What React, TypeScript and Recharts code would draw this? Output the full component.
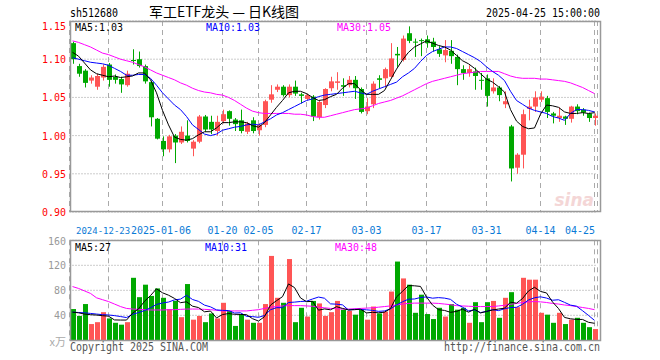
import React from 'react';
import { ComposedChart, Bar, Line, XAxis, YAxis, CartesianGrid } from 'recharts';

const dates = [
  '2024-12-13', '2024-12-16', '2024-12-17', '2024-12-18', '2024-12-19', '2024-12-20',
  '2024-12-23', '2024-12-24', '2024-12-25', '2024-12-26', '2024-12-27', '2024-12-30', '2024-12-31',
  '2025-01-02', '2025-01-03', '2025-01-06', '2025-01-07', '2025-01-08', '2025-01-09', '2025-01-10',
  '2025-01-13', '2025-01-14', '2025-01-15', '2025-01-16', '2025-01-17', '2025-01-20', '2025-01-21',
  '2025-01-22', '2025-01-23', '2025-01-24', '2025-01-27',
  '2025-02-05', '2025-02-06', '2025-02-07', '2025-02-10', '2025-02-11', '2025-02-12', '2025-02-13',
  '2025-02-14', '2025-02-17', '2025-02-18', '2025-02-19', '2025-02-20', '2025-02-21', '2025-02-24',
  '2025-02-25', '2025-02-26', '2025-02-27', '2025-02-28',
  '2025-03-03', '2025-03-04', '2025-03-05', '2025-03-06', '2025-03-07', '2025-03-10', '2025-03-11',
  '2025-03-12', '2025-03-13', '2025-03-14', '2025-03-17', '2025-03-18', '2025-03-19', '2025-03-20',
  '2025-03-21', '2025-03-24', '2025-03-25', '2025-03-26', '2025-03-27', '2025-03-28', '2025-03-31',
  '2025-04-01', '2025-04-02', '2025-04-03', '2025-04-07', '2025-04-08', '2025-04-09', '2025-04-10',
  '2025-04-11', '2025-04-14', '2025-04-15', '2025-04-16', '2025-04-17', '2025-04-18', '2025-04-21',
  '2025-04-22', '2025-04-23', '2025-04-24', '2025-04-25',
];

const opens = [
  1.121, 1.091, 1.085, 1.072, 1.064, 1.076, 1.093, 1.077, 1.074, 1.066,
  1.099, 1.100, 1.091, 1.070, 1.022, 0.993, 0.982, 1.000, 0.991, 1.000,
  0.983, 0.992, 1.025, 1.018, 1.006, 1.019, 1.032, 1.021, 1.020, 1.005,
  1.020, 1.007, 1.014, 1.047, 1.060, 1.064, 1.053, 1.064, 1.054, 1.048,
  1.051, 1.024, 1.040, 1.062, 1.069, 1.066, 1.066, 1.073, 1.061, 1.032,
  1.041, 1.075, 1.075, 1.077, 1.107, 1.099, 1.134, 1.123, 1.125, 1.126,
  1.123, 1.113, 1.105, 1.111, 1.103, 1.087, 1.082, 1.084, 1.073, 1.075,
  1.058, 1.063, 1.041, 1.012, 0.958, 0.975, 1.035, 1.038, 1.047, 1.049,
  1.029, 1.023, 1.025, 1.022, 1.038, 1.034, 1.029, 1.023,
];
const highs = [
  1.123, 1.094, 1.087, 1.079, 1.081, 1.093, 1.095, 1.080, 1.077, 1.085,
  1.113, 1.110, 1.093, 1.072, 1.023, 0.999, 1.001, 1.002, 1.012, 1.020,
  0.994, 1.027, 1.027, 1.026, 1.026, 1.034, 1.033, 1.023, 1.034, 1.018,
  1.024, 1.016, 1.047, 1.066, 1.067, 1.066, 1.067, 1.072, 1.056, 1.055,
  1.053, 1.046, 1.062, 1.077, 1.083, 1.075, 1.078, 1.078, 1.063, 1.049,
  1.071, 1.079, 1.089, 1.121, 1.116, 1.131, 1.143, 1.127, 1.127, 1.131,
  1.128, 1.117, 1.125, 1.125, 1.106, 1.092, 1.092, 1.089, 1.082, 1.080,
  1.075, 1.065, 1.058, 1.014, 0.977, 1.034, 1.047, 1.058, 1.058, 1.052,
  1.031, 1.037, 1.026, 1.039, 1.041, 1.036, 1.030, 1.029,
];
const lows = [
  1.094, 1.077, 1.063, 1.068, 1.060, 1.072, 1.064, 1.068, 1.056, 1.064,
  1.093, 1.089, 1.068, 1.012, 0.995, 0.973, 0.978, 0.964, 0.989, 0.991,
  0.973, 0.990, 1.005, 1.002, 1.000, 1.016, 1.013, 1.006, 1.003, 1.002,
  1.003, 1.000, 1.011, 1.043, 1.057, 1.051, 1.050, 1.052, 1.042, 1.046,
  1.019, 1.021, 1.036, 1.058, 1.060, 1.052, 1.063, 1.048, 1.029, 1.028,
  1.036, 1.062, 1.063, 1.076, 1.090, 1.097, 1.121, 1.103, 1.104, 1.115,
  1.110, 1.103, 1.096, 1.094, 1.066, 1.073, 1.077, 1.060, 1.060, 1.038,
  1.055, 1.045, 1.036, 0.940, 0.950, 0.957, 1.020, 1.031, 1.044, 1.023,
  1.016, 1.018, 1.014, 1.017, 1.028, 1.026, 1.018, 1.013,
];
const closes = [
  1.100, 1.081, 1.069, 1.076, 1.078, 1.090, 1.073, 1.073, 1.067, 1.081,
  1.098, 1.091, 1.071, 1.024, 0.996, 0.982, 0.999, 0.991, 1.005, 0.993,
  0.992, 1.025, 1.008, 1.008, 1.018, 1.028, 1.022, 1.015, 1.006, 1.016,
  1.006, 1.014, 1.045, 1.054, 1.064, 1.053, 1.064, 1.055, 1.052, 1.053,
  1.025, 1.044, 1.061, 1.071, 1.071, 1.064, 1.073, 1.062, 1.031, 1.038,
  1.068, 1.073, 1.087, 1.101, 1.105, 1.127, 1.124, 1.122, 1.124, 1.121,
  1.116, 1.107, 1.112, 1.104, 1.087, 1.082, 1.087, 1.078, 1.072, 1.052,
  1.063, 1.053, 1.045, 0.957, 0.975, 1.028, 1.038, 1.050, 1.051, 1.031,
  1.026, 1.026, 1.022, 1.038, 1.032, 1.030, 1.023, 1.026,
];
const ma5 = [
  1.109, 1.104, 1.095, 1.086, 1.081, 1.079, 1.077, 1.078, 1.076, 1.077,
  1.078, 1.082, 1.082, 1.073, 1.056, 1.033, 1.014, 0.998, 0.995, 0.994,
  0.996, 1.001, 1.005, 1.005, 1.010, 1.017, 1.017, 1.018, 1.018, 1.017,
  1.013, 1.011, 1.017, 1.027, 1.037, 1.046, 1.056, 1.058, 1.058, 1.055,
  1.050, 1.046, 1.047, 1.051, 1.054, 1.062, 1.068, 1.068, 1.060, 1.054,
  1.054, 1.054, 1.059, 1.073, 1.087, 1.099, 1.109, 1.116, 1.120, 1.124,
  1.121, 1.118, 1.116, 1.112, 1.105, 1.098, 1.094, 1.088, 1.081, 1.074,
  1.070, 1.064, 1.057, 1.034, 1.019, 1.012, 1.009, 1.010, 1.028, 1.040,
  1.039, 1.037, 1.031, 1.029, 1.029, 1.030, 1.029, 1.030,
];
const ma10 = [
  1.102, 1.100, 1.098, 1.096, 1.095, 1.094, 1.092, 1.088, 1.084, 1.079,
  1.079, 1.080, 1.080, 1.075, 1.066, 1.056, 1.048, 1.040, 1.034, 1.025,
  1.014, 1.008, 1.002, 1.000, 1.002, 1.007, 1.009, 1.011, 1.012, 1.014,
  1.015, 1.014, 1.018, 1.022, 1.027, 1.030, 1.034, 1.038, 1.042, 1.046,
  1.048, 1.051, 1.053, 1.054, 1.055, 1.056, 1.057, 1.058, 1.056, 1.054,
  1.058, 1.061, 1.064, 1.067, 1.070, 1.077, 1.082, 1.088, 1.097, 1.105,
  1.110, 1.113, 1.116, 1.116, 1.114, 1.110, 1.106, 1.102, 1.097, 1.090,
  1.084, 1.079, 1.072, 1.058, 1.046, 1.041, 1.036, 1.033, 1.031, 1.029,
  1.025, 1.023, 1.020, 1.029, 1.034, 1.034, 1.033, 1.031,
];
const ma30 = [
  1.124, 1.122, 1.119, 1.116, 1.112, 1.108, 1.106, 1.103, 1.100, 1.098,
  1.096, 1.093, 1.090, 1.086, 1.082, 1.079, 1.076, 1.073, 1.069, 1.066,
  1.062, 1.059, 1.057, 1.056, 1.054, 1.053, 1.050, 1.046, 1.041, 1.036,
  1.032, 1.030, 1.029, 1.029, 1.029, 1.029, 1.029, 1.028, 1.028, 1.027,
  1.025, 1.024, 1.024, 1.026, 1.028, 1.030, 1.032, 1.034, 1.035, 1.036,
  1.039, 1.042, 1.044, 1.046, 1.049, 1.052, 1.056, 1.060, 1.064, 1.068,
  1.071, 1.073, 1.075, 1.077, 1.079, 1.081, 1.082, 1.083, 1.084, 1.084,
  1.084, 1.084, 1.081, 1.078, 1.076, 1.075, 1.075, 1.075, 1.074, 1.074,
  1.073, 1.072, 1.071, 1.069, 1.066, 1.063, 1.059, 1.055,
];

// volume, 万手
const vols = [
  50, 39, 58, 26, 29, 45, 35, 28, 25, 29,
  100, 69, 89, 71, 83, 68, 50, 63, 37, 90,
  33, 39, 29, 43, 35, 60, 47, 23, 42, 33,
  28, 28, 58, 135, 68, 60, 130, 29, 52, 38,
  63, 59, 39, 45, 63, 49, 47, 41, 49, 33,
  54, 43, 46, 78, 126, 99, 89, 44, 73, 42,
  34, 52, 38, 58, 49, 52, 28, 61, 29, 61,
  63, 36, 68, 77, 53, 100, 97, 97, 44, 41,
  28, 44, 26, 33, 36, 28, 21, 18,
];
const vma5 = [
  45, 44, 42, 41, 40.4, 39.4, 38.6, 32.6, 32.4, 32.4,
  43.4, 50.2, 62.4, 71.6, 82.4, 76, 72.2, 67, 60.2, 61.6,
  54.6, 52.4, 45.6, 46.8, 35.8, 41.2, 42.8, 41.6, 41.4, 41,
  34.6, 30.8, 37.8, 56.4, 63.4, 69.8, 90.2, 84.4, 67.8, 61.8,
  62.4, 48.2, 50.2, 48.8, 53.8, 51, 48.6, 49, 49.8, 43.8,
  44.8, 44, 45, 50.8, 69.4, 78.4, 87.6, 87.2, 86.2, 69.4,
  56.4, 49, 47.8, 44.8, 46.2, 49.8, 45, 49.6, 43.8, 46.2,
  48.4, 50, 51.4, 61, 59.4, 66.8, 79, 84.8, 78.2, 75.8,
  61.4, 50.8, 36.6, 34.4, 33.4, 33.4, 28.8, 27.2,
];
const vma10 = [
  45, 44.5, 44, 43, 42, 41, 40.5, 39.5, 38, 36.4,
  41.4, 44.4, 47.5, 52, 57.4, 59.7, 61.2, 64.7, 65.9, 72,
  65.3, 62.3, 56.3, 53.5, 48.7, 47.9, 47.6, 43.6, 44.1, 38.4,
  37.9, 36.8, 39.7, 48.9, 52.2, 52.2, 60.5, 61.1, 62.1, 62.6,
  66.1, 69.2, 67.3, 58.3, 57.8, 56.7, 48.4, 49.6, 49.3, 48.8,
  47.9, 46.3, 47, 50.3, 56.6, 61.6, 65.8, 66.1, 68.5, 69.4,
  67.4, 68.3, 67.5, 65.5, 57.8, 53.1, 47, 48.7, 44.3, 46.2,
  49.1, 47.5, 50.5, 52.4, 52.8, 57.6, 64.5, 68.1, 69.6, 67.6,
  64.1, 64.9, 60.7, 56.3, 54.6, 47.4, 39.8, 31.9,
];
const vma30 = [
  86, 83, 79, 75, 68, 65, 62, 58, 54, 51,
  50, 49.5, 49, 48.5, 48.5, 48.5, 49, 49, 49.5, 50,
  50, 50, 49.5, 49, 48, 47, 47, 47, 47, 47,
  48, 49, 51, 53, 54, 55, 55.5, 55.5, 55.5, 55,
  54.5, 53, 52, 51, 50.5, 50, 50, 50.5, 51, 51.5,
  52, 53, 54, 55, 56.5, 58, 59, 59.5, 59.5, 59.5,
  59.5, 59, 58, 57, 55.5, 55, 54.5, 54, 54, 54,
  54, 55, 56, 57.5, 59, 60.5, 61.5, 62, 61.5, 60.5,
  59, 58, 56.5, 55.5, 54, 52.5, 51, 49,
];

const tickDates = ['2024-12-23', '2025-01-06', '2025-01-20', '2025-02-05', '2025-02-17',
  '2025-03-03', '2025-03-17', '2025-03-31', '2025-04-14', '2025-04-25'];
const tickLabels = ['2024-12-23', '2025-01-06', '01-20', '02-05', '02-17',
  '03-03', '03-17', '03-31', '04-14', '04-25'];
const priceTicks = [0.9, 0.95, 1.0, 1.05, 1.1, 1.15];
const volTicks = [0, 40, 80, 120, 160];

const RED = '#ff5555';
const GREEN = '#00a800';
const MONO = "'DejaVu Sans Mono', monospace";

const rows = dates.map((d, i) => ({
  date: d,
  open: opens[i],
  high: highs[i],
  low: lows[i],
  close: closes[i],
  range: [lows[i], highs[i]],
  ma5: ma5[i],
  ma10: ma10[i],
  ma30: ma30[i],
  vol: vols[i],
  vma5: vma5[i],
  vma10: vma10[i],
  vma30: vma30[i],
}));

// narrow, tall mono text like the sina bitmap font: glyphs squeezed to 6px a char
const Mono = ({ x, y, s, fill, anchor = 'start', size = 11 }: any) => (
  <text x={x} y={y} dy={size * 0.36} textAnchor={anchor} fontFamily={MONO} fontSize={size} fill={fill}
    textLength={s.length * 6} lengthAdjust="spacingAndGlyphs">
    {s}
  </text>
);

const Candle = (props: any) => {
  const { x, y, height, payload } = props;
  const { open, close, high, low } = payload;
  const color = close >= open ? RED : GREEN;
  const k = high > low ? height / (high - low) : 0;
  const yo = y + (high - open) * k;
  const yc = y + (high - close) * k;
  const left = Math.round(x);
  const cx = left + 2.5;
  const top = Math.min(yo, yc);
  const bh = Math.max(Math.abs(yc - yo), 1);
  return (
    <g>
      <line x1={cx} x2={cx} y1={y} y2={y + height} stroke={color} strokeWidth={1} />
      <rect x={left} y={top} width={5} height={bh} fill={color} />
    </g>
  );
};

const VolBar = (props: any) => {
  const { x, y, height, payload } = props;
  const color = payload.close >= payload.open ? RED : GREEN;
  return <rect x={Math.round(x)} y={y} width={5} height={height} fill={color} />;
};

const DateTick = (props: any) => {
  const { x, y, payload } = props;
  const idx = tickDates.indexOf(payload.value);
  const label = tickLabels[idx] || '';
  if (idx === 0) {
    return (
      <text x={76} y={y + 20} fontFamily={MONO} fontSize={9} fill="#0a7ad6">{label}</text>
    );
  }
  if (idx === 1) {
    return (
      <text x={x - 1.5} y={y + 20} textAnchor="middle" fontFamily={MONO} fontSize={10} fill="#0a7ad6">{label}</text>
    );
  }
  const half = label.length * 3;
  const cx = x + half > 595 ? 595 - half : x;
  return <Mono x={cx} y={y + 16} s={label} fill="#0a7ad6" anchor="middle" />;
};

const PriceTick = (props: any) => {
  const { y, payload } = props;
  const yy = payload.value > 1.14 ? y + 5 : y;
  return <Mono x={66} y={yy} s={payload.value.toFixed(2)} fill="#ff0000" anchor="end" />;
};

const VolTick = (props: any) => {
  const { y, payload } = props;
  if (payload.value === 0) {
    return (
      <text x={66} y={y + 6} textAnchor="end" fontFamily="'Noto Sans CJK SC', sans-serif" fontSize={11} fill="#aaa">
        x万
      </text>
    );
  }
  return <Mono x={66} y={y} s={String(payload.value)} fill="#999" anchor="end" />;
};

export default function App() {
  return (
    <div style={{ position: 'absolute', left: 0, top: 0, width: 660, height: 360, background: '#fff' }}>
      <div style={{ position: 'absolute', left: 0, top: 0 }}>
        <ComposedChart width={660} height={240} data={rows} margin={{ top: 21, right: 62.5, bottom: 8, left: 9.5 }}>
          <CartesianGrid vertical={false} stroke="#999" strokeDasharray="1 2" />
          <CartesianGrid horizontal={false} stroke="#aaa" strokeDasharray="5 4" />
          <XAxis dataKey="date" ticks={tickDates} interval={0} height={20} axisLine={false}
            tickLine={false} tickSize={0} tick={<DateTick />} />
          <YAxis domain={[0.9, 1.15]} ticks={priceTicks} width={60} axisLine={false}
            tickLine={false} tick={<PriceTick />} allowDataOverflow />
          <Bar dataKey="range" barSize={5} shape={<Candle />} isAnimationActive={false} />
          <Line dataKey="ma30" stroke="#ff00ff" dot={false} strokeWidth={1} isAnimationActive={false} />
          <Line dataKey="ma10" stroke="#0000ff" dot={false} strokeWidth={1} isAnimationActive={false} />
          <Line dataKey="ma5" stroke="#000" dot={false} strokeWidth={1} isAnimationActive={false} />
        </ComposedChart>
      </div>
      <div style={{ position: 'absolute', left: 0, top: 232 }}>
        <ComposedChart width={660} height={128} data={rows} margin={{ top: 8.3, right: 62.5, bottom: 19.7, left: 9.5 }}>
          <CartesianGrid vertical={false} stroke="#999" strokeDasharray="1 2" />
          <CartesianGrid horizontal={false} stroke="#aaa" strokeDasharray="5 4" />
          <XAxis dataKey="date" ticks={tickDates} interval={0} hide />
          <YAxis domain={[0, 160]} ticks={volTicks} width={60} axisLine={false}
            tickLine={false} tick={<VolTick />} />
          <Bar dataKey="vol" barSize={5} shape={<VolBar />} isAnimationActive={false} />
          <Line dataKey="vma30" stroke="#ff00ff" dot={false} strokeWidth={1} isAnimationActive={false} />
          <Line dataKey="vma10" stroke="#0000ff" dot={false} strokeWidth={1} isAnimationActive={false} />
          <Line dataKey="vma5" stroke="#000" dot={false} strokeWidth={1} isAnimationActive={false} />
        </ComposedChart>
      </div>
      <svg width={660} height={360} style={{ position: 'absolute', left: 0, top: 0, pointerEvents: 'none' }}>
        <rect x={70.5} y={21.5} width={530} height={190} fill="none" stroke="#999" strokeWidth={1.5} />
        <rect x={70.5} y={240.5} width={530} height={100} fill="none" stroke="#999" strokeWidth={1.5} />
        <Mono x={70} y={13} s="sh512680" fill="#000" size={12} />
        <text x={224} y={16.5} textAnchor="middle" fontFamily="'Noto Sans CJK SC', sans-serif" fontSize={14} fill="#000">
          军工ETF龙头 — 日K线图
        </text>
        <Mono x={600} y={13} s="2025-04-25 15:00:00" fill="#000" anchor="end" size={12} />
        <Mono x={75} y={27} s="MA5:1.03" fill="#000" />
        <Mono x={206} y={27} s="MA10:1.03" fill="#0000ff" />
        <Mono x={337} y={27} s="MA30:1.05" fill="#ff00ff" />
        <Mono x={75} y={247} s="MA5:27" fill="#000" />
        <Mono x={205} y={247} s="MA10:31" fill="#0000ff" />
        <Mono x={335} y={247} s="MA30:48" fill="#ff00ff" />
        <Mono x={70} y={347} s="Copyright 2025 SINA.COM" fill="#555" size={12} />
        <Mono x={600} y={347} s="http://finance.sina.com.cn" fill="#555" anchor="end" size={12} />
        <text x={594} y={206} textAnchor="end" fontFamily="'DejaVu Sans', sans-serif" fontStyle="italic"
          fontWeight="bold" fontSize={17} fill="#eebcbc" opacity={0.6}>sina</text>
      </svg>
    </div>
  );
}
